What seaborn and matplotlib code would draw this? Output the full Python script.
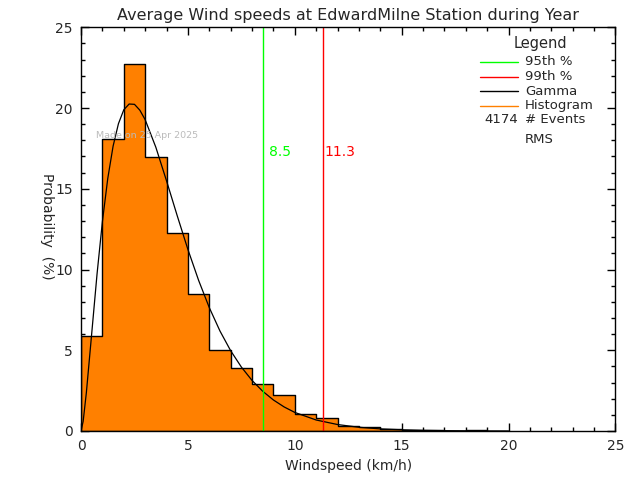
import matplotlib
matplotlib.use("Agg")
import matplotlib.pyplot as plt
import seaborn as sns
import pandas as pd
from matplotlib.ticker import MultipleLocator

# ---- data ----
bin_edges = list(range(0, 20))
bin_centers = [0.5, 1.5, 2.5, 3.5, 4.5, 5.5, 6.5, 7.5, 8.5, 9.5,
               10.5, 11.5, 12.5, 13.5, 14.5, 15.5, 16.5, 17.5, 18.5]
bin_heights = [5.88, 18.06, 22.7, 16.95, 12.24, 8.46, 5.0, 3.88, 2.91, 2.21,
               1.04, 0.79, 0.31, 0.23, 0.12, 0.05, 0.05, 0.0, 0.05]

gamma_x = [0.0, 0.1, 0.25, 0.5, 0.75, 1.0, 1.25, 1.5, 1.75, 2.0, 2.25, 2.5, 2.75,
           3.0, 3.5, 4.0, 4.5, 5.0, 5.5, 6.0, 6.5, 7.0, 7.5, 8.0, 8.5, 9.0,
           9.5, 10.0, 11.0, 12.0, 13.0, 14.0, 15.0, 16.0, 17.0, 18.0, 20.0]
gamma_y = [0.0, 0.6, 2.38, 6.04, 9.73, 12.97, 15.63, 17.64, 19.03, 19.89, 20.25,
           20.23, 19.87, 19.28, 17.57, 15.49, 13.33, 11.24, 9.33, 7.64, 6.19,
           4.97, 3.96, 3.13, 2.46, 1.92, 1.49, 1.15, 0.68, 0.40, 0.23, 0.13,
           0.075, 0.04, 0.02, 0.01, 0.003]

p95 = 8.5
p99 = 11.3
n_events = 4174
title = "Average Wind speeds at EdwardMilne Station during Year"
made_on = "Made on 25 Apr 2025"

# ---- plotting ----
sns.set_style("ticks")
plt.rcParams['font.family'] = ['DejaVu Sans']

fig = plt.figure(figsize=(6.4, 4.8), dpi=100)
ax = fig.add_axes([0.1266, 0.1021, 0.8351, 0.8410])

df = pd.DataFrame({"speed": bin_centers, "pct": bin_heights})
sns.histplot(data=df, x="speed", weights="pct", bins=bin_edges,
             element="step", fill=True, color="#FF8000", alpha=1.0,
             edgecolor="black", linewidth=1.0, ax=ax)

gdf = pd.DataFrame({"x": gamma_x, "y": gamma_y})
sns.lineplot(data=gdf, x="x", y="y", color="black", linewidth=0.9, ax=ax,
             sort=False, estimator=None)

ax.axvline(p95, color="#00FF00", linewidth=1.0)
ax.axvline(p99, color="#FF0000", linewidth=1.0)

ax.text(p95 + 0.3, 17.27, f"{p95:.1f}", color="#00FF00", fontsize=10,
        va="center", ha="left")
ax.text(p99 + 0.1, 17.27, f"{p99:.1f}", color="#FF0000", fontsize=10,
        va="center", ha="left")
ax.text(0.70, 18.33, made_on, color="#BBBBBB", fontsize=6.8,
        va="center", ha="left")

ax.set_xlim(0, 25)
ax.set_ylim(0, 25)
ax.xaxis.set_major_locator(MultipleLocator(5))
ax.xaxis.set_minor_locator(MultipleLocator(1))
ax.yaxis.set_major_locator(MultipleLocator(5))
ax.yaxis.set_minor_locator(MultipleLocator(1))
ax.tick_params(which="both", direction="in", top=True, right=True,
               color="black", width=1.0)
ax.tick_params(which="major", length=6, labelsize=10, pad=6)
ax.tick_params(which="minor", length=3)
for s in ax.spines.values():
    s.set_visible(True)
    s.set_color("black")
    s.set_linewidth(1.0)

ax.set_xlabel("Windspeed (km/h)", fontsize=10)
ax.set_ylabel("")
fig.text(46.7 / 640, 1 - 226 / 480, "Probability  (%)", rotation=270,
         fontsize=10, ha="center", va="center")
ax.set_title(title, fontsize=11.5, pad=5)

# ---- legend block ----
tr = ax.transAxes
ax.text(0.859, 0.961, "Legend", transform=tr, fontsize=10.5,
        ha="center", va="center")
leg_items = [("95th %", "#00FF00"), ("99th %", "#FF0000"),
             ("Gamma", "black"), ("Histogram", "#FF8000")]
leg_y = [0.9148, 0.8776, 0.8422, 0.8058]
for (lab, col), yy in zip(leg_items, leg_y):
    ax.plot([0.7465, 0.8176], [yy, yy], color=col, linewidth=1.0,
            transform=tr)
    ax.text(0.8307, yy, lab, transform=tr, fontsize=9.5, ha="left",
            va="center")
ax.text(0.8176, 0.7704, f"{n_events}", transform=tr, fontsize=9.5,
        ha="right", va="center")
ax.text(0.8307, 0.7704, "# Events", transform=tr, fontsize=9.5,
        ha="left", va="center")
ax.text(0.8307, 0.7233, "RMS", transform=tr, fontsize=9.5,
        ha="left", va="center")

fig.savefig("out.png", dpi=100, facecolor="white")
